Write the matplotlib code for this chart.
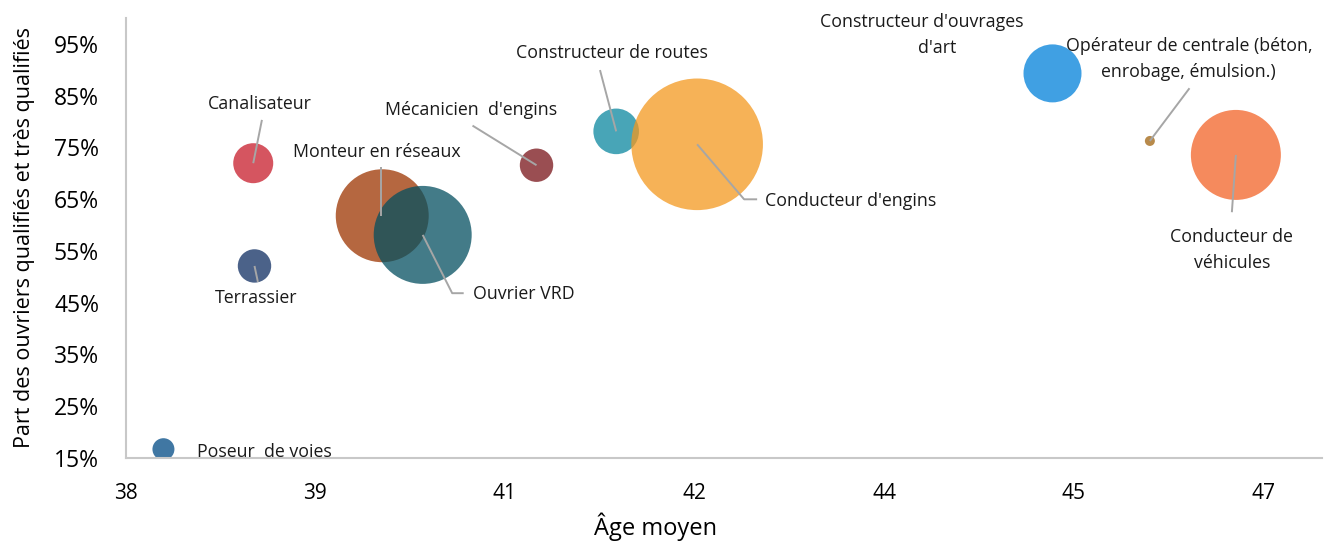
import matplotlib
matplotlib.use("Agg")
import matplotlib.pyplot as plt
from matplotlib.lines import Line2D
from matplotlib.transforms import IdentityTransform

# ---------------- data ----------------
metiers = [
    "Poseur  de voies",
    "Terrassier",
    "Canalisateur",
    "Monteur en réseaux",
    "Ouvrier VRD",
    "Mécanicien  d'engins",
    "Constructeur de routes",
    "Conducteur d'engins",
    "Constructeur d'ouvrages\nd'art",
    "Opérateur de centrale (béton,\nenrobage, émulsion.)",
    "Conducteur de\nvéhicules",
]
age_moyen = [38.30, 39.02, 39.01, 40.03, 40.35, 41.25, 41.88, 42.52, 45.33, 46.10, 46.78]
part_qualifies = [0.167, 0.521, 0.7195, 0.618, 0.581, 0.7156, 0.781, 0.756, 0.893, 0.7625, 0.7355]
effectifs = [121, 279, 400, 2160, 2400, 279, 520, 4330, 841, 25, 2025]

x_ticks = [38, 39.5, 41, 42.5, 44, 45.5, 47]
x_tick_labels = ["38", "39", "41", "42", "44", "45", "47"]
y_ticks = [0.15, 0.25, 0.35, 0.45, 0.55, 0.65, 0.75, 0.85, 0.95]
y_tick_labels = ["15%", "25%", "35%", "45%", "55%", "65%", "75%", "85%", "95%"]

# ---------------- style ----------------
colors = ["#004a85", "#0e2d62", "#c81c2b", "#9c3400", "#044f60", "#781318",
          "#0b879f", "#f3981f", "#0080da", "#a0630e", "#f26327"]
ALPHA = 0.75
FONT = ["Open Sans", "DejaVu Sans"]
LBL_FS = 12.8
LEADER_C = "#a6a6a6"

# label layout in pixels relative to bubble centre (dy downward):
# per label: list of (dx, dy) for each text line, ha, leader polyline
label_layout = [
    ([(100.7, 2.7)], "center", None),
    ([(1.7, 32)], "center", [(0, 0), (3.4, 16)]),
    ([(6.7, -59.3)], "center", [(0, 0), (8.7, -43.3)]),
    ([(-5.3, -63.8)], "center", [(-1.3, 0), (-1.3, -48.8)]),
    ([(50.1, 59.0)], "left", [(0, 0), (29.5, 58.3), (41, 58.3)]),
    ([(-65, -55.3)], "center", [(0, 0), (-64, -39.6)]),
    ([(-4.2, -78.3)], "center", [(0, 0), (-16.2, -61.3)]),
    ([(68.1, 56.8)], "left", [(0, 0), (47, 55), (60, 55)]),
    ([(-130.7, -51.3), (-115.7, -25.3)], "center", None),
    ([(39.8, -95), (38.8, -69.3)], "center", [(0, 0), (39.6, -52.7)]),
    ([(-4.5, 82.3), (-4.0, 108)], "center", [(0, 0), (-4, 57.3)]),
]

plt.rcParams["font.family"] = FONT

W, H = 1324, 542
fig = plt.figure(figsize=(W / 100, H / 100), dpi=100)
ax = fig.add_axes([125.5 / W, 84 / H, 1196 / W, 440 / H])

ax.set_xlim(38, 38 + 1196 / 189.7 * 1.5)
ax.set_ylim(0.15, 1.0)

sizes = [e * 2.0736 for e in effectifs]
ax.scatter(age_moyen, part_qualifies, s=sizes, c=colors, alpha=ALPHA,
           linewidths=0, zorder=2)

for sp in ["top", "right"]:
    ax.spines[sp].set_visible(False)
for sp in ["left", "bottom"]:
    ax.spines[sp].set_color("#c8c8c8")
    ax.spines[sp].set_linewidth(1.5)

ax.set_xticks(x_ticks)
ax.set_xticklabels(x_tick_labels, fontsize=15, color="#000000")
ax.set_yticks(y_ticks)
ax.set_yticklabels(y_tick_labels, fontsize=16.5, color="#000000")
ax.tick_params(axis="both", length=0)
ax.tick_params(axis="y", pad=19)
ax.tick_params(axis="x", pad=18)

ax.text((655 - 125.5) / 1196, (458 - 527) / 440, "Âge moyen", transform=ax.transAxes,
        ha="center", va="center", fontsize=17, color="#000000")
ax.text((25 - 125.5) / 1196, (458 - 238) / 440, "Part des ouvriers qualifiés et très qualifiés",
        transform=ax.transAxes, ha="center", va="center", rotation=90,
        fontsize=15.5, color="#000000")

fig.canvas.draw()
for name, x, y, (offs, ha, leader) in zip(metiers, age_moyen, part_qualifies, label_layout):
    px, py = ax.transData.transform((x, y))
    if leader is not None:
        xs = [px + dx for dx, dy in leader]
        ys = [py - dy for dx, dy in leader]
        fig.add_artist(Line2D(xs, ys, transform=IdentityTransform(), color=LEADER_C,
                              lw=1.4, zorder=5, solid_capstyle="butt"))
    for line, (dx, dy) in zip(name.split("\n"), offs):
        fig.text((px + dx) / W, (py - dy) / H, line, ha=ha, va="center",
                 fontsize=LBL_FS, color="#1a1a1a", zorder=6)

fig.savefig("out.png", dpi=100)
